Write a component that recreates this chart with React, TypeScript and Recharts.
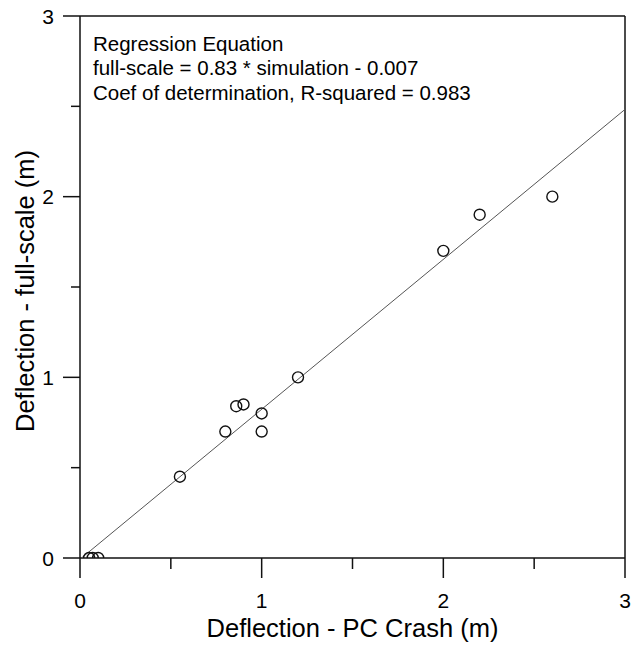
import React from "react";
import {
  ScatterChart,
  Scatter,
  XAxis,
  YAxis,
  ReferenceLine,
  Label,
} from "recharts";

// PC Crash simulation deflection vs full-scale test deflection (m)
const simulation = [0.05, 0.07, 0.1, 0.55, 0.8, 0.86, 0.9, 1.0, 1.0, 1.2, 2.0, 2.2, 2.6];
const fullScale = [0, 0, 0, 0.45, 0.7, 0.84, 0.85, 0.8, 0.7, 1.0, 1.7, 1.9, 2.0];

// regression: full-scale = slope * simulation + intercept
const slope = 0.83;
const intercept = -0.007;
const fitRange = [0, 3];

const axisTicks = [0, 0.5, 1, 1.5, 2, 2.5, 3];
const annotation = [
  "Regression Equation",
  "full-scale = 0.83 * simulation - 0.007",
  "Coef of determination, R-squared = 0.983",
];

const points = simulation.map((x, i) => ({ x, y: fullScale[i] }));
const fitLine = fitRange.map((x) => ({ x, y: slope * x + intercept }));

const INK = "#111";
const FONT = "'Liberation Sans', Arial, sans-serif";

function XTick(props: any) {
  const { x, y, payload } = props;
  const major = Number.isInteger(payload.value);
  return (
    <g>
      <line x1={x} x2={x} y1={y} y2={y + (major ? 20 : 11)} stroke={INK} strokeWidth={1.5} />
      {major && (
        <text x={x} y={y + 50} textAnchor="middle" fontSize={21} fill="#000" fontFamily={FONT}>
          {payload.value}
        </text>
      )}
    </g>
  );
}

function YTick(props: any) {
  const { x, y, payload } = props;
  const major = Number.isInteger(payload.value);
  return (
    <g>
      <line x1={x - (major ? 17 : 9)} x2={x} y1={y} y2={y} stroke={INK} strokeWidth={1.5} />
      {major && (
        <text x={x - 26} y={y + 7.5} textAnchor="end" fontSize={21} fill="#000" fontFamily={FONT}>
          {payload.value}
        </text>
      )}
    </g>
  );
}

const OpenCircle = (props: any) => (
  <circle cx={props.cx} cy={props.cy} r={5.5} fill="none" stroke={INK} strokeWidth={1.4} />
);

export default function App() {
  return (
    <div
      style={{
        position: "absolute",
        left: 0,
        top: 0,
        width: 633,
        height: 648,
        background: "#fff",
        fontFamily: FONT,
      }}
    >
      <ScatterChart width={633} height={648} margin={{ top: 16, right: 8, bottom: 0, left: 0 }}>
        <XAxis
          type="number"
          dataKey="x"
          domain={[0, 3]}
          ticks={axisTicks}
          allowDataOverflow
          height={90}
          tickSize={0}
          tickMargin={0}
          tickLine={false}
          axisLine={{ stroke: INK, strokeWidth: 1.5 }}
          tick={<XTick />}
        >
          <Label
            value="Deflection - PC Crash (m)"
            position="insideBottom"
            offset={11}
            style={{ fontSize: 25.5, fill: "#000", fontFamily: FONT }}
          />
        </XAxis>
        <YAxis
          type="number"
          dataKey="y"
          domain={[0, 3]}
          ticks={axisTicks}
          allowDataOverflow
          width={80}
          tickSize={0}
          tickMargin={0}
          tickLine={false}
          axisLine={{ stroke: INK, strokeWidth: 1.5 }}
          tick={<YTick />}
        >
          <Label
            value="Deflection - full-scale (m)"
            angle={-90}
            position="insideLeft"
            offset={25}
            dy={4}
            style={{ fontSize: 25.5, fill: "#000", fontFamily: FONT, textAnchor: "middle" }}
          />
        </YAxis>
        <ReferenceLine y={3} stroke={INK} strokeWidth={1.5} />
        <ReferenceLine x={3} stroke={INK} strokeWidth={1.5} />
        <Scatter
          data={fitLine}
          line={{ stroke: "#555", strokeWidth: 1 }}
          shape={() => <g />}
          isAnimationActive={false}
        />
        <Scatter data={points} shape={<OpenCircle />} isAnimationActive={false} />
      </ScatterChart>
      <div
        style={{
          position: "absolute",
          left: 93,
          top: 31.5,
          fontSize: 20.5,
          lineHeight: "24.5px",
          color: "#000",
          whiteSpace: "nowrap",
        }}
      >
        {annotation.map((line) => (
          <div key={line}>{line}</div>
        ))}
      </div>
    </div>
  );
}
